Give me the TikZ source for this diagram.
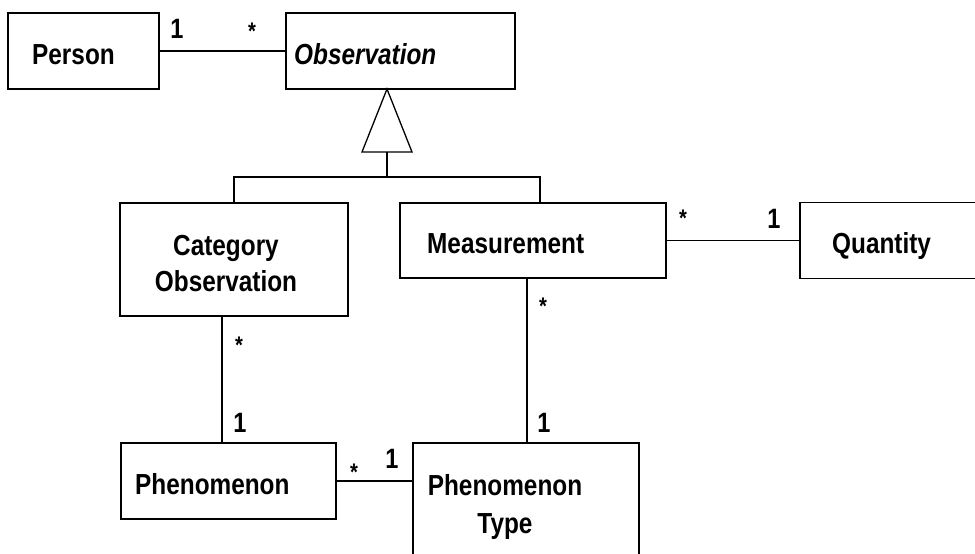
\documentclass[tikz,border=0pt]{standalone}
\usepackage{fontspec}
\setmainfont{Liberation Sans}[FakeStretch=0.84]
\begin{document}
\begin{tikzpicture}[x=1pt,y=-1pt,
  cls/.style={draw, line width=1.3pt, inner sep=0pt, rectangle},
  lbl/.style={inner sep=0pt, font=\fontsize{29pt}{36pt}\selectfont\bfseries},
  mult/.style={inner sep=0pt, anchor=base, font=\fontsize{28pt}{30pt}\selectfont\bfseries},
  many/.style={inner sep=0pt, anchor=base, font=\fontsize{24pt}{26pt}\selectfont\bfseries},
  link/.style={line width=1.3pt}]
\useasboundingbox (0,0) rectangle (975,554);
\clip (0,0) rectangle (975,554);
\fill[white] (0,0) rectangle (975,554);

% class boxes
\node[cls, minimum width=151pt, minimum height=76pt] (person) at (83.5,51) {};
\node[cls, minimum width=229pt, minimum height=76pt] (obs) at (400.5,51) {};
\node[cls, minimum width=228pt, minimum height=113pt] (cat) at (234,259.5) {};
\node[cls, minimum width=266pt, minimum height=75pt] (meas) at (533,240.5) {};
\node[cls, minimum width=178pt, minimum height=76pt] (quant) at (889,240.5) {};
\node[cls, minimum width=215pt, minimum height=76pt] (phen) at (228.5,481) {};
\node[cls, minimum width=226pt, minimum height=127pt] (ptype) at (526,506.5) {};

% class names
\node[lbl, anchor=base west] (personT) at (32,64) {Person};
\node[lbl, anchor=base west] (obsT) at (294,64) {\itshape Observation};
\node[lbl, anchor=base] (catT1) at (226,255) {Category};
\node[lbl, anchor=base] (catT2) at (226,291) {Observation};
\node[lbl, anchor=base west] (measT) at (427,253) {Measurement};
\node[lbl, anchor=base west] (quantT) at (832,253) {Quantity};
\node[lbl, anchor=base west] (phenT) at (135,494) {Phenomenon};
\node[lbl, anchor=base] (ptypeT1) at (505,495) {Phenomenon};
\node[lbl, anchor=base] (ptypeT2) at (505,533) {Type};

% generalization
\coordinate (tip) at (387,89);
\coordinate (tbase) at (387,152);
\coordinate (join) at (387,177);
\draw[link] (tip) -- ++(-25,63) -- ++(50,0) -- cycle;
\draw[link] (tbase) -- (join);
\draw[link] (cat.north) |- (join) -| ([xshift=7pt]meas.north);

% associations
\draw[link] (person) -- (obs);
\draw[link] (meas) -- (quant);
\draw[link] ([xshift=-12pt]cat.south) -- ([xshift=-12pt]cat.south |- phen.north);
\draw[link] ([xshift=-6pt]meas.south) -- ([xshift=-6pt]meas.south |- ptype.north);
\draw[link] (phen.east) -- (phen.east -| ptype.west);

% multiplicities
\node[mult] (m1) at (177,38) {1};
\node[many] (m2) at (252,39) {*};
\node[many] (m3) at (683,226) {*};
\node[mult] (m4) at (774,228) {1};
\node[many] (m5) at (543,314) {*};
\node[mult] (m6) at (544,432) {1};
\node[many] (m7) at (239,353) {*};
\node[mult] (m8) at (240,432) {1};
\node[many] (m9) at (354,480) {*};
\node[mult] (m10) at (392,468) {1};
\end{tikzpicture}
\end{document}
